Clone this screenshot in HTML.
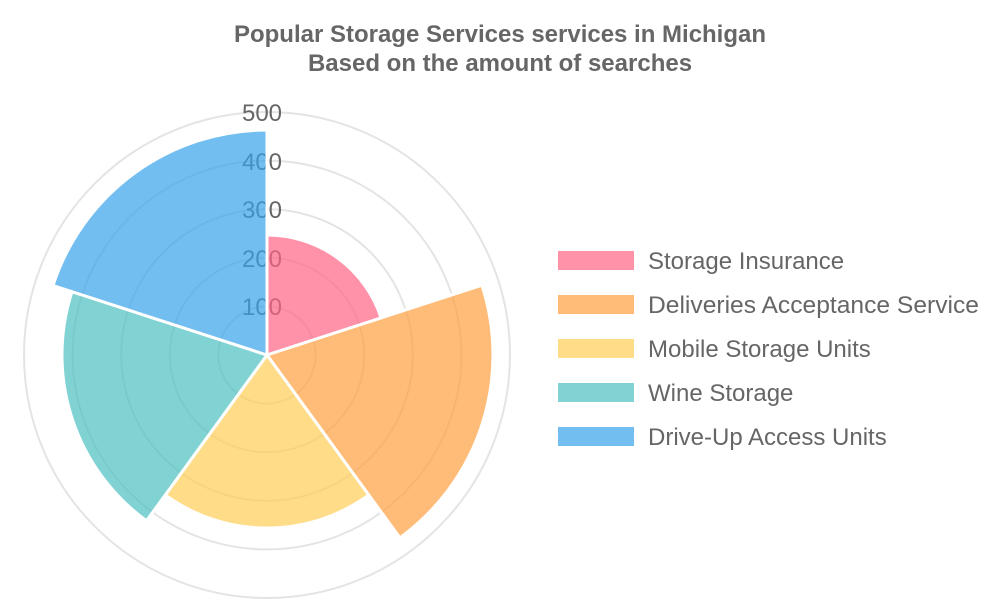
<!DOCTYPE html>
<html><head><style>body{margin:0;background:#fff;}svg{display:block;font-family:"Liberation Sans",sans-serif;}</style></head>
<body>
<svg width="1000" height="600" viewBox="0 0 1000 600">
<text x="500" y="42" text-anchor="middle" font-size="24" font-weight="bold" fill="#666" textLength="532" lengthAdjust="spacingAndGlyphs">Popular Storage Services services in Michigan</text>
<text x="500" y="71" text-anchor="middle" font-size="24" font-weight="bold" fill="#666">Based on the amount of searches</text>
<g fill="none" stroke="#e4e4e4" stroke-width="2">
<circle cx="267" cy="355" r="48.6"/><circle cx="267" cy="355" r="97.2"/><circle cx="267" cy="355" r="145.8"/><circle cx="267" cy="355" r="194.4"/><circle cx="267" cy="355" r="243"/>
</g>
<g font-size="24" fill="#666" text-anchor="middle">
<text x="262" y="315">100</text><text x="262" y="267">200</text><text x="262" y="218">300</text><text x="262" y="170">400</text><text x="262" y="121">500</text>
</g>
<g stroke="#fff" stroke-width="3" stroke-linejoin="round">
<path d="M267,355 L267,235 A120,120 0 0 1 381.1,317.9 Z" fill="rgba(255,99,132,0.7)"/>
<path d="M267,355 L481.9,285.2 A226,226 0 0 1 399.9,537.8 Z" fill="rgba(255,159,64,0.7)"/>
<path d="M267,355 L368.7,495 A173,173 0 0 1 165.3,495 Z" fill="rgba(255,205,86,0.7)"/>
<path d="M267,355 L146.5,520.8 A205,205 0 0 1 72,291.7 Z" fill="rgba(75,192,192,0.7)"/>
<path d="M267,355 L53,285.5 A225,225 0 0 1 267,130 Z" fill="rgba(54,162,235,0.7)"/>
</g>
<g font-size="24" fill="#666">
<rect x="558" y="251" width="76" height="19" fill="rgba(255,99,132,0.7)"/><text x="648" y="269">Storage Insurance</text>
<rect x="558" y="295" width="76" height="19" fill="rgba(255,159,64,0.7)"/><text x="648" y="313" textLength="331" lengthAdjust="spacingAndGlyphs">Deliveries Acceptance Service</text>
<rect x="558" y="339" width="76" height="19" fill="rgba(255,205,86,0.7)"/><text x="648" y="357">Mobile Storage Units</text>
<rect x="558" y="383" width="76" height="19" fill="rgba(75,192,192,0.7)"/><text x="648" y="401">Wine Storage</text>
<rect x="558" y="427" width="76" height="19" fill="rgba(54,162,235,0.7)"/><text x="648" y="445">Drive-Up Access Units</text>
</g>
</svg>
</body></html>
